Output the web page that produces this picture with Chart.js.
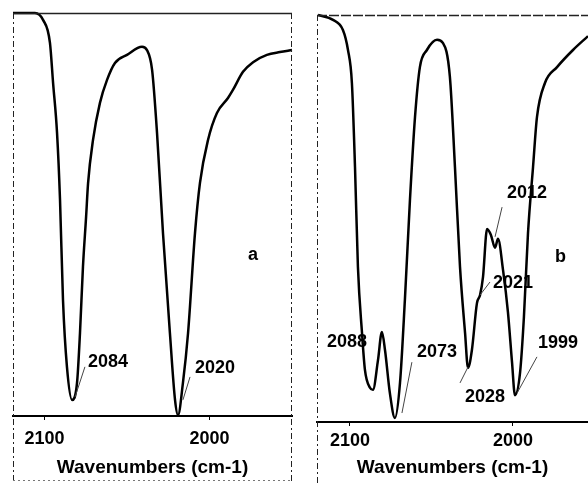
<!DOCTYPE html>
<html><head><meta charset="utf-8">
<script src="https://cdn.jsdelivr.net/npm/chart.js@4.4.0/dist/chart.umd.min.js"></script>
<style>
html,body{margin:0;padding:0;background:#fff;}
#wrap{position:relative;width:588px;height:483px;overflow:hidden;background:#fff;}
.pane{position:absolute;top:0;height:483px;}
</style></head><body>
<div id="wrap">
<div class="pane" style="left:0;width:300px"><canvas id="chartA"></canvas></div>
<div class="pane" style="left:300px;width:288px"><canvas id="chartB"></canvas></div>
</div>
<script>
// ---- data ----
const tickLabels = [2100, 2000];
const axisTitle = 'Wavenumbers (cm-1)';

const wnA = [2119.1,2105.8,2100.9,2096.7,2094.8,2092.4,2090.6,2088.8,2086.4,2083.3,2080.3,2078.5,2076.7,2074.8,2073.6,2070.6,2066.4,2062.1,2057.3,2050.0,2040.9,2037.9,2034.8,2031.8,2028.2,2024.0,2020.9,2019.1,2016.1,2013.0,2008.8,2005.8,2000.9,1995.5,1988.8,1985.8,1979.7,1973.6,1965.2,1957.3,1950.0];
const tA  = [100,100,98.3,92.6,82.6,70.2,53.6,28.8,12.2,4.0,8.2,20.6,37.0,49.4,57.8,68.5,77.7,83.4,87.6,89.6,91.6,90.8,85.9,70.2,45.4,20.6,4.0,0.2,8.2,20.6,45.4,57.8,68.5,75.2,78.9,80.9,85.4,87.8,89.6,90.3,90.8];

const wnB = [2119.6,2110.4,2104.3,2101.2,2098.8,2096.9,2095.1,2092.6,2090.8,2087.7,2085.9,2082.8,2080.4,2078.5,2075.5,2072.4,2069.3,2066.3,2063.2,2060.1,2057.1,2052.8,2046.6,2042.9,2038.7,2035.6,2032.5,2029.4,2027.6,2025.2,2022.1,2020.2,2018.4,2015.9,2013.5,2011.0,2009.2,2006.1,2003.1,2000.6,1998.8,1995.7,1993.3,1990.8,1987.7,1985.3,1980.4,1973.0,1963.2,1954.0];
const tB  = [100,98.8,96.3,91.4,83.3,62.7,38.1,21.9,12.8,8.4,7.9,15.2,22.1,17.7,7.1,1.0,9.6,30.0,54.5,74.9,87.2,91.4,93.9,93.1,84.8,62.7,38.1,21.9,13.3,17.7,29.2,31.2,35.6,47.4,45.9,42.8,45.0,37.3,27.0,14.7,6.6,12.0,25.8,46.4,62.7,74.9,83.3,87.2,91.4,94.8];

// peak labels: text, text anchor (wn, T), leader from (wn,T) to (wn,T)
const labelsA = [
  {text:'2084', at:[2073.6,13.4], lead:[[2081.5,4.7],[2075.5,12.2]]},
  {text:'2020', at:[2008.8,11.9], lead:[[2016.1,4.0],[2011.8,9.7]]},
  {text:'a',    at:[1976.7,40.0], lead:null}
];
const labelsB = [
  {text:'2088', at:[2114.1,19.7], lead:null},
  {text:'2073', at:[2058.9,17.2], lead:[[2068.1,2.2],[2062.0,14.7]]},
  {text:'2028', at:[2029.4,6.1],  lead:[[2032.5,9.6],[2027.6,13.5]]},
  {text:'2021', at:[2012.3,34.2], lead:[[2020.2,31.2],[2014.1,34.4]]},
  {text:'2012', at:[2003.7,56.3], lead:[[2011.0,45.5],[2006.7,52.8]]},
  {text:'1999', at:[1984.7,19.4], lead:[[1997.5,7.1],[1985.3,16.0]]},
  {text:'b',    at:[1974.2,40.5], lead:null}
];

const FONT = '"Liberation Sans", Arial, sans-serif';

const framePlugin = {
  id:'frame',
  afterDraw(chart, args, opts){
    const ctx = chart.ctx, a = chart.chartArea, H = chart.height;
    ctx.save();
    ctx.strokeStyle = '#222';
    ctx.lineWidth = 1.5;
    ctx.setLineDash(opts.topDash || []);
    ctx.beginPath(); ctx.moveTo(a.left, a.top+0.5); ctx.lineTo(a.right, a.top+0.5); ctx.stroke();
    ctx.lineWidth = 1;
    ctx.setLineDash([6,3,2,3]);
    ctx.beginPath(); ctx.moveTo(a.left+0.5, a.top); ctx.lineTo(a.left+0.5, H); ctx.stroke();
    if (opts.right){
      ctx.beginPath(); ctx.moveTo(a.right-0.5, a.top); ctx.lineTo(a.right-0.5, H); ctx.stroke();
    }
    if (opts.bottomDots){
      ctx.setLineDash([2,3]);
      ctx.strokeStyle='#777';
      ctx.beginPath(); ctx.moveTo(a.left, H-2.5); ctx.lineTo(a.right, H-2.5); ctx.stroke();
    }
    ctx.restore();
  }
};

const labelPlugin = {
  id:'peakLabels',
  afterDatasetsDraw(chart, args, opts){
    const ctx = chart.ctx, xs = chart.scales.x, ys = chart.scales.y;
    ctx.save();
    (opts.items||[]).forEach(it=>{
      if (it.lead){
        ctx.strokeStyle = '#444'; ctx.lineWidth = 1;
        ctx.beginPath();
        ctx.moveTo(xs.getPixelForValue(it.lead[0][0]), ys.getPixelForValue(it.lead[0][1]));
        ctx.lineTo(xs.getPixelForValue(it.lead[1][0]), ys.getPixelForValue(it.lead[1][1]));
        ctx.stroke();
      }
      ctx.fillStyle = '#000';
      ctx.font = 'bold 18px ' + FONT;
      ctx.textAlign = 'left'; ctx.textBaseline = 'middle';
      ctx.fillText(it.text, xs.getPixelForValue(it.at[0]), ys.getPixelForValue(it.at[1]));
    });
    ctx.restore();
  }
};

function makeChart(id, wn, t, xmin, xmax, pad, axisH, tickPad, labels, frameOpts){
  return new Chart(document.getElementById(id), {
    type:'line',
    data:{datasets:[{data: wn.map((w,i)=>({x:w, y:t[i]})), borderColor:'#000', borderWidth:2.5,
      pointRadius:0, fill:false, cubicInterpolationMode:'monotone', clip:false}]},
    options:{
      responsive:true, maintainAspectRatio:false, animation:false,
      layout:{padding:pad},
      plugins:{legend:{display:false}, tooltip:{enabled:false}, frame:frameOpts, peakLabels:{items:labels}},
      scales:{
        x:{type:'linear', reverse:true, min:xmin, max:xmax,
          afterBuildTicks:(s)=>{ s.ticks = tickLabels.map(v=>({value:v})); },
          afterFit:(s)=>{ s.height = axisH; },
          grid:{display:true, drawOnChartArea:false, drawTicks:true, tickLength:4, color:'#000'},
          border:{display:true, color:'#000', width:2},
          ticks:{color:'#000', font:{family:FONT, size:18, weight:'bold'}, padding:tickPad, maxRotation:0,
            callback:(v)=>String(v)},
          title:{display:true, text:axisTitle, color:'#000', font:{family:FONT, size:19, weight:'bold'},
            padding:{top:0,bottom:4}}
        },
        y:{display:false, min:0, max:100}
      }
    },
    plugins:[framePlugin, labelPlugin]
  });
}

makeChart('chartA', wnA, tA, 1950.0, 2119.1, {left:13, right:8, top:13, bottom:0}, 67, 8, labelsA,
  {right:true, bottomDots:true});
makeChart('chartB', wnB, tB, 1954.0, 2120.2, {left:17, right:0, top:15, bottom:0}, 61, 4, labelsB,
  {right:false, topDash:[10,2]});
</script>
</body></html>
